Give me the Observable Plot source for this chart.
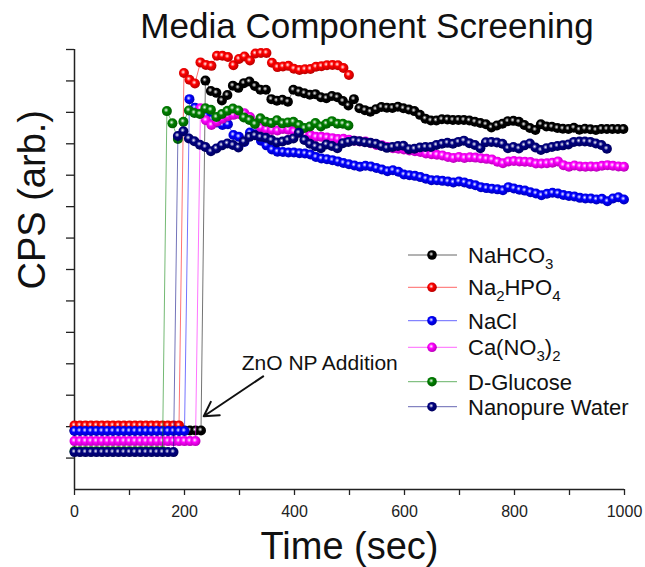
<!DOCTYPE html>
<html><head><meta charset="utf-8">
<script src="https://cdn.jsdelivr.net/npm/d3@7"></script>
<script src="https://cdn.jsdelivr.net/npm/@observablehq/plot@0.6"></script>
<style>
body{margin:0;background:#fff;font-family:"Liberation Sans",Arial,sans-serif;}
#wrap{position:relative;width:645px;height:567px;overflow:hidden;}
#title{position:absolute;left:367px;top:6px;transform:translateX(-50%);font-size:35px;line-height:40px;white-space:nowrap;color:#111;}
#chart{position:absolute;left:0;top:45px;}
</style></head><body>
<div id="wrap"><div id="title">Media Component Screening</div><div id="chart"></div></div>
<script>
// ---- data ----
const seriesNames = ["NaHCO3","Na2HPO4","NaCl","Ca(NO3)2","D-Glucose","Nanopure Water"];
const seriesColors = ["#000000","#ff0000","#0000ff","#ff00ff","#008000","#000080"];
// legend labels: [text, subscript?]
const legendLabels = [
  [["NaHCO",0],["3",1]],
  [["Na",0],["2",1],["HPO",0],["4",1]],
  [["NaCl",0]],
  [["Ca(NO",0],["3",1],[")",0],["2",1]],
  [["D-Glucose",0]],
  [["Nanopure Water",0]]
];
const preStep = 10, postStep = 10;
// baseline (before addition), t = 0,10,20,...
const preNaHCO3  = [1.88,1.88,1.88,1.88,1.88,1.88,1.88,1.88,1.88,1.88,1.88,1.88,1.88,1.88,1.88,1.88,1.88,1.88,1.88,1.88,1.88,1.88,1.88,1.88];
const preNa2HPO4 = [2.04,2.04,2.04,2.04,2.04,2.04,2.04,2.04,2.04,2.04,2.04,2.04,2.04,2.04,2.04,2.04,2.04,2.04,2.04,2.04];
const preNaCl    = [1.86,1.86,1.86,1.86,1.86,1.86,1.86,1.86,1.86,1.86,1.86,1.86,1.86,1.86,1.86,1.86,1.86,1.86,1.86,1.86,1.86];
const preCaNO3   = [1.54,1.54,1.54,1.54,1.54,1.54,1.54,1.54,1.54,1.54,1.54,1.54,1.54,1.54,1.54,1.54,1.54,1.54,1.54,1.54,1.54,1.54,1.54];
const preGlucose = [1.22,1.22,1.22,1.22,1.22,1.22,1.22,1.22,1.22,1.22,1.22,1.22,1.22,1.22,1.22,1.22,1.22];
const preWater   = [1.19,1.19,1.19,1.19,1.19,1.19,1.19,1.19,1.19,1.19,1.19,1.19,1.19,1.19,1.19,1.19,1.19,1.19,1.19];
// time of first point after the ZnO NP addition
const postStart = [238, 199, 209, 229, 168, 188];
// values after addition, every 10 s from postStart
const postNaHCO3 = [13.01,12.68,12.62,12.38,12.55,12.85,12.78,12.93,12.98,12.84,12.72,12.72,12.42,12.37,12.40,12.34,12.72,12.66,12.61,12.56,
 12.58,12.48,12.45,12.52,12.48,12.36,12.22,12.42,12.13,12.07,12.02,12.10,12.17,12.15,12.14,12.18,12.13,12.09,12.04,11.92,
 11.80,11.74,11.74,11.78,11.77,11.76,11.76,11.76,11.74,11.70,11.66,11.62,11.52,11.58,11.64,11.72,11.73,11.70,11.60,11.50,
 11.44,11.62,11.55,11.54,11.50,11.48,11.47,11.51,11.45,11.48,11.46,11.44,11.47,11.47,11.47,11.47,11.47];
const postNa2HPO4 = [13.25,13.04,12.92,13.59,13.51,13.48,13.80,13.80,13.76,13.50,13.70,13.78,13.65,13.87,13.89,13.89,13.58,13.44,13.46,13.48,
 13.39,13.35,13.37,13.38,13.45,13.47,13.50,13.51,13.50,13.41,13.19];
const postNaCl = [12.42,12.15,12.00,11.88,11.78,11.68,11.60,11.62,11.28,11.22,11.06,11.36,11.30,11.10,10.95,10.82,10.75,10.74,10.72,10.72,
 10.70,10.69,10.66,10.58,10.53,10.51,10.48,10.44,10.39,10.35,10.31,10.27,10.30,10.28,10.23,10.18,10.13,10.16,10.11,10.02,
 10.00,9.98,9.94,9.89,9.84,9.84,9.82,9.80,9.77,9.80,9.77,9.72,9.68,9.62,9.59,9.57,9.55,9.52,9.62,9.58,
 9.54,9.51,9.46,9.42,9.36,9.41,9.44,9.42,9.37,9.34,9.32,9.28,9.26,9.26,9.23,9.25,9.17,9.26,9.30,9.23];
const postCaNO3 = [12.13,11.75,11.60,11.70,11.80,11.88,11.92,11.95,11.97,11.85,11.65,11.52,11.46,11.44,11.42,11.47,11.45,11.40,11.35,11.30,
 11.28,11.22,11.22,11.20,11.18,11.15,11.16,11.13,11.10,11.07,11.07,11.02,10.96,10.95,10.90,10.86,10.84,10.82,10.79,10.76,
 10.74,10.69,10.67,10.65,10.63,10.58,10.55,10.58,10.55,10.57,10.56,10.54,10.52,10.50,10.43,10.38,10.44,10.45,10.44,10.43,
 10.42,10.37,10.37,10.38,10.40,10.44,10.32,10.27,10.31,10.28,10.27,10.28,10.27,10.30,10.32,10.30,10.28,10.27];
const postGlucose = [12.04,11.65,11.15,11.70,12.06,11.98,11.95,12.13,12.08,11.85,11.95,12.05,12.12,12.06,11.84,11.76,11.63,11.81,11.70,11.66,
 11.75,11.65,11.68,11.70,11.60,11.50,11.55,11.66,11.55,11.64,11.72,11.64,11.64,11.58];
const postWater = [11.25,11.40,11.17,11.08,10.97,10.90,10.76,10.85,10.95,11.01,10.96,10.88,11.07,11.22,11.27,11.22,11.19,11.12,11.04,11.07,
 11.12,11.17,11.35,11.12,11.00,10.92,10.86,10.98,10.93,10.86,11.02,11.06,11.10,11.08,11.05,11.03,11.00,10.93,10.87,10.90,
 10.93,10.94,10.83,10.84,10.88,10.90,10.90,10.96,11.00,11.03,11.00,11.06,11.10,11.02,10.96,10.86,11.05,11.06,11.04,11.00,
 10.86,10.90,10.85,10.95,11.01,10.88,10.80,10.86,10.90,10.93,10.95,10.98,11.06,11.07,11.07,11.06,11.01,10.96,10.84];
const xTicks = [0,100,200,300,400,500,600,700,800,900,1000];
const xTickLabels = [0,200,400,600,800,1000];
const yTicks = [1,2,3,4,5,6,7,8,9,10,11,12,13,14];
const annotationText = "ZnO NP Addition";
const annotationPos = {t: 304, v: 4.03};
const arrowSpec = {t1: 343, v1: 3.6, t2: 235, v2: 2.33};

const preAll = [preNaHCO3, preNa2HPO4, preNaCl, preCaNO3, preGlucose, preWater];
const postAll = [postNaHCO3, postNa2HPO4, postNaCl, postCaNO3, postGlucose, postWater];

const series = seriesNames.map((name, i) => {
  const pts = preAll[i].map((v, k) => ({t: k * preStep, v}));
  postAll[i].forEach((v, k) => pts.push({t: postStart[i] + k * postStep, v}));
  return pts;
});

const marks = [];
series.forEach((pts, i) => {
  marks.push(Plot.line(pts, {x: "t", y: "v", stroke: seriesColors[i], strokeWidth: 1, strokeOpacity: 0.55}));
  marks.push(Plot.dot(pts, {x: "t", y: "v", r: 5, fill: seriesColors[i], stroke: "none"}));
});

const W = 645, H = 522;
const chart = Plot.plot({
  width: W, height: H,
  marginLeft: 74, marginRight: 21, marginTop: 4, marginBottom: 78,
  x: {domain: [0, 1000]},
  y: {domain: [0, 14]},
  style: {fontFamily: "'Liberation Sans', Arial, sans-serif", color: "#222", background: "transparent"},
  marks: [
    Plot.axisY({ticks: yTicks, tickFormat: () => "", tickSize: 8, strokeWidth: 1.3}),
    Plot.axisX({ticks: xTicks, tickFormat: d => xTickLabels.includes(d) ? String(d) : "", tickSize: 6, tickPadding: 10, fontSize: 16, strokeWidth: 1.3}),
    Plot.ruleX([0], {stroke: "#222", strokeWidth: 1.5}),
    Plot.ruleY([0], {stroke: "#222", strokeWidth: 1.5}),
    ...marks,
    Plot.text([annotationText], {x: () => annotationPos.t, y: () => annotationPos.v, text: d => d, textAnchor: "start", fontSize: 21, fill: "#111"}),
    Plot.arrow([arrowSpec], {x1: "t1", y1: "v1", x2: "t2", y2: "v2", stroke: "#111", strokeWidth: 2, headLength: 12, bend: 0}),
    Plot.text(["Time (sec)"], {frameAnchor: "bottom", dy: 57, text: d => d, fontSize: 38, lineAnchor: "middle", fill: "#111"}),
    Plot.text(["CPS (arb.)"], {frameAnchor: "left", dx: -42, dy: 20, rotate: -90, text: d => d, fontSize: 38, lineAnchor: "middle", fill: "#111"})
  ]
});
document.getElementById("chart").appendChild(chart);

// shaded ball markers
const svg = d3.select(chart);
const defs = svg.insert("defs", ":first-child");
seriesColors.forEach((c, i) => {
  const g = defs.append("radialGradient").attr("id", "ball" + i).attr("cx", "42%").attr("cy", "40%").attr("r", "62%");
  g.append("stop").attr("offset", "0%").attr("stop-color", "#ffffff");
  g.append("stop").attr("offset", "14%").attr("stop-color", d3.interpolateRgb(c, "#ffffff")(0.6));
  g.append("stop").attr("offset", "38%").attr("stop-color", c);
  g.append("stop").attr("offset", "100%").attr("stop-color", d3.color(c).darker(1).formatHex());
});
svg.selectAll('g[aria-label="dot"]').each(function(_, i) {
  d3.select(this).attr("fill", "url(#ball" + i + ")");
});

// legend (inside plot area)
const legendY = [210, 242.3, 275.7, 302.3, 336.7, 361.7];
const leg = svg.append("g").attr("text-anchor", "start");
seriesNames.forEach((name, i) => {
  const y = legendY[i];
  leg.append("line").attr("x1", 408).attr("x2", 457).attr("y1", y).attr("y2", y)
    .attr("stroke", seriesColors[i]).attr("stroke-width", 1).attr("stroke-opacity", 0.6);
  leg.append("circle").attr("cx", 432).attr("cy", y).attr("r", 4.8).attr("fill", "url(#ball" + i + ")");
  const txt = leg.append("text").attr("x", 468).attr("y", y + 8)
    .attr("text-anchor", "start")
    .attr("font-size", 22).attr("fill", "#111")
    .attr("font-family", "'Liberation Sans', Arial, sans-serif");
  let shifted = false;
  legendLabels[i].forEach(([s, sub]) => {
    const ts = txt.append("tspan").text(s);
    if (sub && !shifted) { ts.attr("dy", 6).attr("font-size", 15); shifted = true; }
    else if (sub && shifted) { ts.attr("font-size", 15); }
    else if (!sub && shifted) { ts.attr("dy", -6); shifted = false; }
  });
});
</script>
</body></html>
